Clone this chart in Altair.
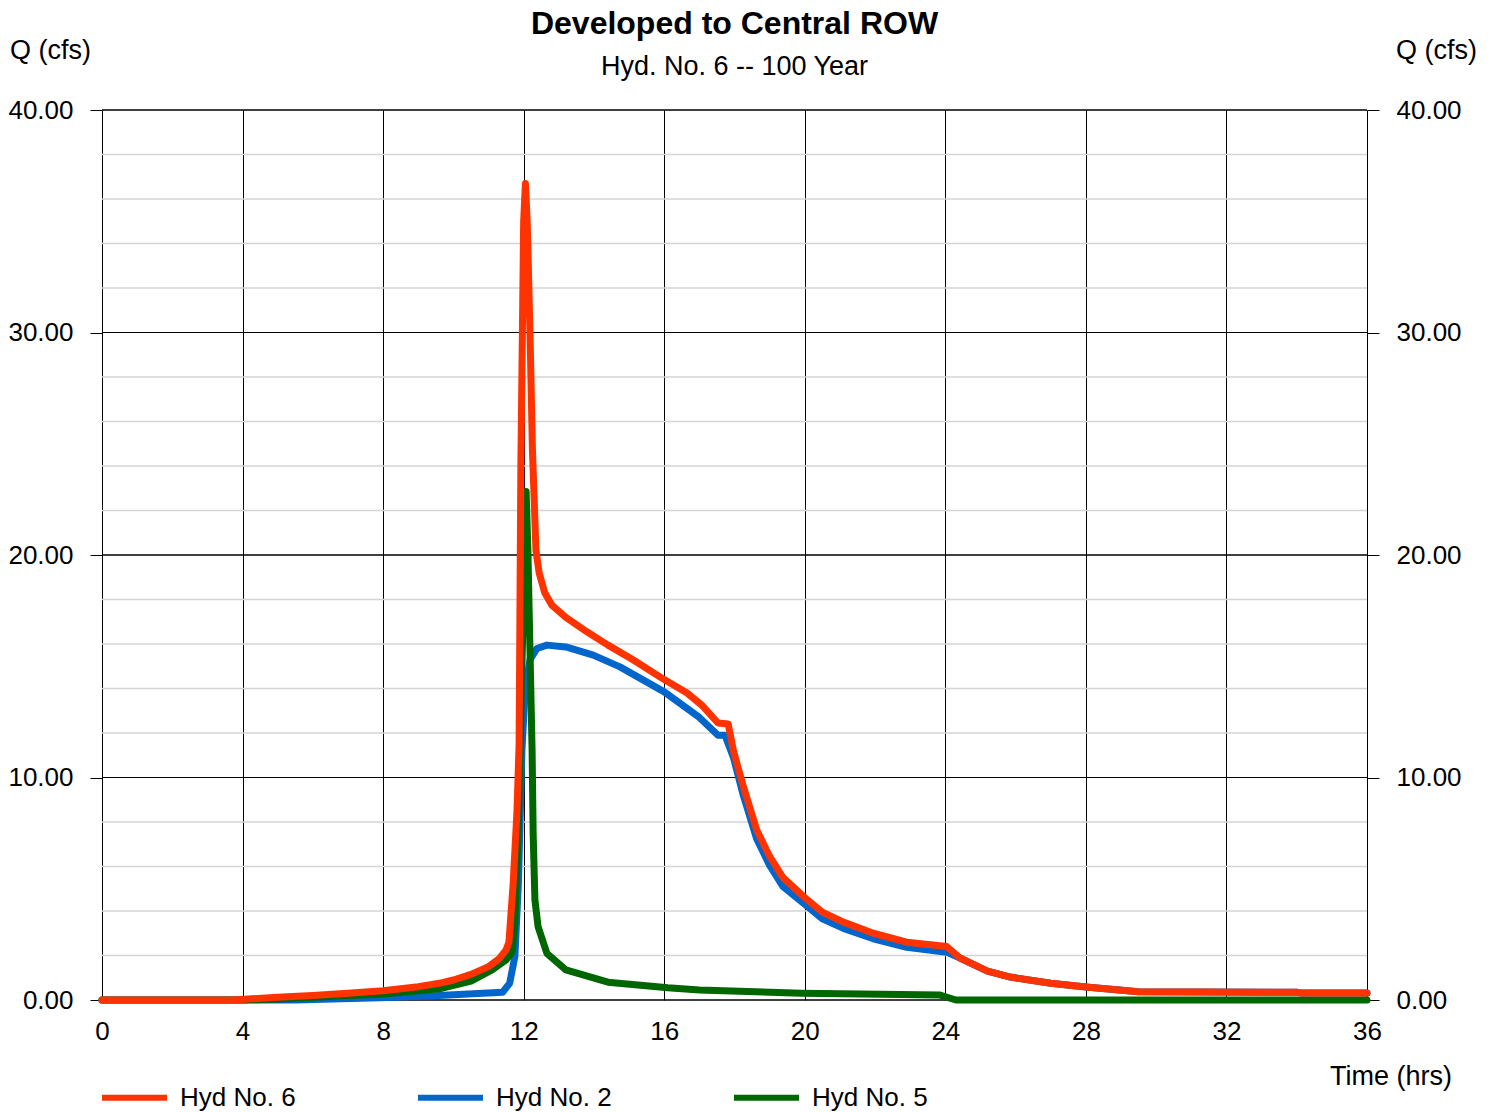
import altair as alt
import pandas as pd

# ---- data ----
series_names = ["Hyd No. 6", "Hyd No. 2", "Hyd No. 5"]
series_colors = ["#FF3300", "#0066CC", "#006600"]

t6 = [0, 3.7, 5, 6, 7, 8, 9, 9.6, 10, 10.5, 11, 11.3, 11.5, 11.58, 11.7, 11.81, 11.87,
      11.92, 12.0, 12.05, 12.1, 12.18, 12.25, 12.35, 12.44, 12.6, 12.8, 13.2, 13.8, 14.4,
      15.1, 16.0, 16.65, 17.07, 17.53, 17.82, 17.97, 18.25, 18.63, 19.0, 19.38, 20.0, 20.5,
      21.1, 21.95, 22.9, 24.04, 24.4, 25.2, 25.85, 27.0, 28.0, 29.5, 34.0, 34.1, 36.0]
q6 = [0, 0, 0.12, 0.2, 0.3, 0.42, 0.6, 0.75, 0.9, 1.15, 1.5, 1.85, 2.25, 2.6, 5.2, 8.5, 11.5,
      24.0, 35.0, 36.7, 35.0, 30.0, 24.7, 20.2, 19.2, 18.3, 17.75, 17.2, 16.55, 15.95,
      15.3, 14.4, 13.8, 13.25, 12.45, 12.4, 11.2, 9.6, 7.65, 6.45, 5.5, 4.6, 3.95,
      3.5, 3.0, 2.6, 2.4, 1.9, 1.3, 1.03, 0.75, 0.58, 0.37, 0.35, 0.32, 0.32]

t2 = [0, 5.5, 7.9, 9.3, 11.4, 11.6, 11.75, 11.85, 11.9, 11.95, 12.04, 12.18, 12.38, 12.66,
      13.2, 13.98, 14.74, 16.0, 17.0, 17.53, 17.73, 17.97, 18.25, 18.63, 19.0, 19.38, 20.0,
      20.5, 21.1, 21.95, 22.9, 24.04, 24.4, 25.2, 25.85, 27.0, 28.0, 29.5, 34.0, 34.1, 36.0]
q2 = [0, 0, 0.1, 0.18, 0.35, 0.75, 1.95, 5.25, 8.2, 11.2, 13.9, 15.3, 15.8, 15.95,
      15.87, 15.5, 14.97, 13.85, 12.7, 11.9, 11.9, 10.9, 9.2, 7.25, 6.05, 5.1, 4.3,
      3.65, 3.22, 2.75, 2.37, 2.15, 1.9, 1.3, 1.03, 0.75, 0.58, 0.37, 0.35, 0.32, 0.32]

t5 = [0, 4.0, 5, 6, 7, 8, 9.6, 10.5, 11.1, 11.5, 11.67, 11.75, 11.85, 11.95, 12.07, 12.12,
      12.18, 12.24, 12.27, 12.32, 12.41, 12.66, 13.2, 14.4, 16.1, 17.0, 19.9, 23.85, 24.3, 36.0]
q5 = [0, 0, 0.05, 0.12, 0.2, 0.27, 0.5, 0.85, 1.35, 1.8, 2.15, 3.5, 8.0, 15.0, 22.85, 20.2,
      15.7, 11.2, 7.5, 4.5, 3.3, 2.1, 1.35, 0.8, 0.55, 0.45, 0.3, 0.22, 0.0, 0.0]

x_ticks = [0, 4, 8, 12, 16, 20, 24, 28, 32, 36]
y_major = [0, 10, 20, 30, 40]
y_minor = [2, 4, 6, 8, 12, 14, 16, 18, 22, 24, 26, 28, 32, 34, 36, 38]

FONT = "Liberation Sans"
W, H = 1265, 890

df6 = pd.DataFrame({"t": t6, "q": q6, "series": series_names[0]})
df2 = pd.DataFrame({"t": t2, "q": q2, "series": series_names[1]})
df5 = pd.DataFrame({"t": t5, "q": q5, "series": series_names[2]})

xscale = alt.Scale(domain=[0, 36], nice=False, zero=False)
yscale = alt.Scale(domain=[0, 40], nice=False)
color = alt.Color("series:N",
                  scale=alt.Scale(domain=series_names, range=series_colors),
                  legend=alt.Legend(title=None, orient="none", legendX=-3, legendY=952,
                                    direction="horizontal", columns=3,
                                    symbolType="stroke", symbolSize=4225,
                                    symbolStrokeWidth=6, labelFontSize=26,
                                    labelFont=FONT, labelColor="black",
                                    labelOffset=10, columnPadding=110,
                                    labelLimit=300, padding=0))

minor = alt.Chart(pd.DataFrame({"v": y_minor})).mark_rule(
    color="#d4d4d4", strokeWidth=1.5).encode(
    y=alt.Y("v:Q", scale=yscale, axis=None))

xaxis = alt.Axis(values=x_ticks, grid=True, gridColor="black", gridWidth=1,
                 ticks=False, domain=False, labelFontSize=26, labelFont=FONT,
                 labelColor="black", labelPadding=18, title=None, labelFlush=False)

left = alt.Chart(pd.DataFrame({"v": y_major})).mark_rule(
    color="black", strokeWidth=1).encode(
    y=alt.Y("v:Q", scale=yscale,
            axis=alt.Axis(values=y_major, format=".2f", grid=False, ticks=True,
                          tickSize=12, tickColor="black", domain=False,
                          labelFontSize=26, labelFont=FONT, labelColor="black",
                          labelPadding=17, title=None, orient="left")))

right = alt.Chart(pd.DataFrame({"v": y_major})).mark_rule(
    color="black", strokeWidth=1).encode(
    y=alt.Y("v:Q", scale=yscale,
            axis=alt.Axis(values=y_major, format=".2f", grid=False, ticks=True,
                          tickSize=12, tickColor="black", domain=False,
                          labelFontSize=26, labelFont=FONT, labelColor="black",
                          labelPadding=17, title=None, orient="right")))

def line(df):
    return alt.Chart(df).mark_line(strokeWidth=7, strokeCap="round",
                                   strokeJoin="round").encode(
        x=alt.X("t:Q", scale=xscale, axis=xaxis),
        y=alt.Y("q:Q", scale=yscale, axis=None),
        color=color)

dummy = pd.DataFrame({"a": [0]})

def label(text, x, y, size=26, weight="normal", align="left"):
    return alt.Chart(dummy).mark_text(
        text=text, font=FONT, fontSize=size, fontWeight=weight, align=align,
        baseline="alphabetic", color="black").encode(
        x=alt.value(x), y=alt.value(y))

chart = alt.layer(
    minor, left, right, line(df2), line(df5), line(df6),
    label("Developed to Central ROW", W / 2, -76, size=32, weight="bold", align="center"),
    label("Hyd. No. 6 -- 100 Year", W / 2, -35, size=27, align="center"),
    label("Q (cfs)", -92, -51, size=27),
    label("Q (cfs)", 1375, -51, size=27, align="right"),
    label("Time (hrs)", 1350, 975, size=27, align="right"),
).resolve_scale(y="independent").properties(
    width=W, height=H,
    autosize=alt.AutoSizeParams(type="none"),
    padding={"left": 94, "top": 102, "right": 119, "bottom": 130},
    background="white",
).configure_view(stroke=None)

chart.save("out.html", embed_options={"renderer": "svg", "actions": False})
